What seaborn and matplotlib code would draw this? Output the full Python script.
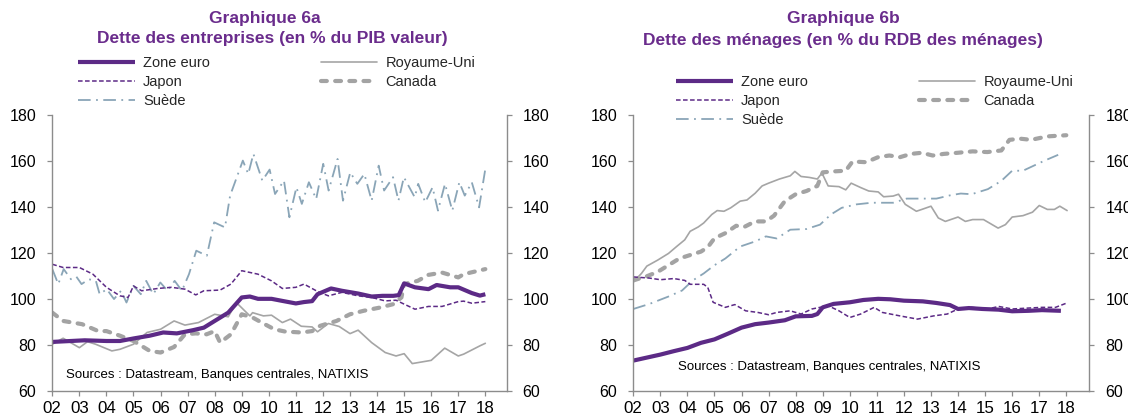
import matplotlib
matplotlib.use("Agg")
import matplotlib.pyplot as plt
import seaborn as sns

# ---------------- data: panel a (corporate debt, % GDP) ----------------
a_ze_x = [2002.0, 2003.2, 2004.0, 2004.5, 2005.0, 2005.6, 2006.1, 2006.6, 2007.2, 2007.6, 2008.0, 2008.5, 2009.0, 2009.3,
          2009.6, 2010.1, 2010.5, 2011.0, 2011.3, 2011.6, 2011.8, 2012.3, 2012.7, 2013.3, 2013.8, 2014.2, 2014.6, 2014.8,
          2015.0, 2015.4, 2015.9, 2016.2, 2016.7, 2017.0, 2017.5, 2017.8, 2018.0]
a_ze_y = [81.3, 82, 81.7, 81.7, 82.8, 84, 85.4, 85, 86.4, 87.5, 90.4, 94, 100.6, 101, 100, 100, 99.1, 98, 98.6, 99, 102,
          104.5, 103.5, 102.3, 101, 101.3, 101.3, 101.6, 106.7, 105, 104.2, 106, 105, 105, 102.5, 101.4, 102]

a_jp_x = [2002.0, 2002.4, 2003.0, 2003.5, 2004.0, 2004.5, 2004.8, 2005.0, 2005.3, 2005.9, 2006.4, 2006.9, 2007.3, 2007.6,
          2008.2, 2008.6, 2009.0, 2009.6, 2010.1, 2010.5, 2011.0, 2011.3, 2011.8, 2012.2, 2012.7, 2013.3, 2013.8, 2014.3,
          2014.7, 2015.0, 2015.4, 2015.9, 2016.4, 2017.0, 2017.2, 2017.5, 2018.0]
a_jp_y = [115, 113.6, 113.6, 110.7, 105, 101.3, 100.6, 105.6, 103.5, 104.5, 105, 104.2, 101.7, 103.5, 103.8, 106.4, 112.2,
          110.7, 107.8, 104.5, 105, 106.4, 103.2, 101.3, 102.8, 101.3, 100.6, 99.1, 99.4, 97.7, 95.5, 96.7, 96.7, 98.8, 99,
          98.1, 98.8]

a_uk_x = [2002.0, 2002.4, 2003.0, 2003.3, 2003.6, 2004.2, 2004.5, 2005.0, 2005.5, 2006.0, 2006.5, 2006.9, 2007.4, 2008.0,
          2008.5, 2008.8, 2009.3, 2009.4, 2009.8, 2010.1, 2010.5, 2010.8, 2011.2, 2011.6, 2011.8, 2012.2, 2012.6, 2013.0,
          2013.3, 2013.8, 2014.3, 2014.7, 2015.0, 2015.3, 2016.0, 2016.5, 2017.0, 2017.2, 2017.8, 2018.0]
a_uk_y = [80.3, 82.9, 78.8, 81.4, 80.3, 77.4, 78.1, 80.3, 85.4, 86.8, 90.4, 88.6, 89.7, 93.3, 92.2, 98.4, 92.6, 94, 92.6,
          92.9, 89.7, 91.2, 88.1, 87.8, 85.7, 89.3, 88, 84.9, 86.4, 81, 76.7, 75.2, 76.2, 71.9, 73.3, 78.6, 75.2, 76, 79.6,
          80.7]

a_ca_x = [2002.0, 2002.4, 2003.1, 2003.7, 2004.0, 2004.5, 2005.0, 2005.6, 2006.0, 2006.5, 2006.9, 2007.3, 2007.7, 2008.0,
          2008.2, 2008.6, 2009.0, 2009.4, 2009.8, 2010.2, 2010.6, 2011.2, 2011.6, 2011.9, 2012.5, 2013.0, 2013.5, 2014.1,
          2014.6, 2014.9, 2015.0, 2015.5, 2015.9, 2016.4, 2017.0, 2017.2, 2018.0]
a_ca_y = [94, 90.4, 89, 86, 86, 84, 81.7, 77.4, 76.7, 79.1, 84.6, 85, 84.6, 86, 81, 84.6, 93.3, 91.9, 89.3, 86.8, 85.8,
          85.4, 86, 88.3, 90.4, 93.3, 94.8, 96.2, 97.7, 100.6, 106.4, 107.8, 110.4, 111.4, 109.3, 110.7, 112.9]

a_se_x = [2002.0, 2002.22, 2002.42, 2002.69, 2002.89, 2003.08, 2003.35, 2003.61, 2003.75, 2004.01, 2004.28, 2004.54,
          2004.74, 2005.0, 2005.27, 2005.47, 2005.73, 2005.99, 2006.26, 2006.52, 2006.79, 2007.05, 2007.32, 2007.71,
          2007.98, 2008.38, 2008.57, 2009.04, 2009.24, 2009.43, 2009.76, 2010.03, 2010.23, 2010.56, 2010.76, 2011.02,
          2011.22, 2011.48, 2011.75, 2012.01, 2012.21, 2012.54, 2012.74, 2013.01, 2013.27, 2013.53, 2013.80, 2014.06,
          2014.26, 2014.59, 2014.79, 2014.99, 2015.39, 2015.52, 2015.78, 2016.05, 2016.25, 2016.51, 2016.78, 2017.04,
          2017.24, 2017.50, 2017.77, 2018.0]
a_se_y = [112.9, 106.4, 112.9, 108.5, 109.6, 106.4, 108.5, 107.8, 102, 104.2, 99.9, 103.5, 98.4, 105.6, 102, 107.8, 102,
          107.1, 103.5, 107.8, 103.5, 110.7, 120.9, 118.7, 133.2, 131, 144.8, 160, 154.2, 162.9, 151.3, 156.1, 145.5,
          151.3, 135.4, 148.4, 141.2, 150.6, 143.3, 158.6, 147, 160.7, 142.6, 154.9, 149.9, 154.2, 142.6, 157.8, 147,
          152.8, 142.6, 152.8, 144.1, 149.9, 141.9, 148.4, 138.3, 149.9, 138.3, 150.6, 144.8, 150.6, 139.7, 156.4]

# ---------------- data: panel b (household debt, % disposable income) ----------------
b_ze_x = [2002.0, 2003.0, 2003.5, 2004.0, 2004.5, 2005.0, 2005.5, 2006.0, 2006.5, 2007.0, 2007.6, 2008.0, 2008.6, 2008.8,
          2009.0, 2009.4, 2010.0, 2010.5, 2011.05, 2011.5, 2012.0, 2012.7, 2013.2, 2013.7, 2014.0, 2014.4, 2014.9,
          2015.5, 2016.0, 2016.6, 2017.1, 2017.8]
b_ze_y = [73.2, 75.8, 77.3, 78.7, 80.9, 82.4, 84.9, 87.5, 89, 89.7, 90.7, 92.4, 92.6, 93.4, 96.3, 97.8, 98.5, 99.5, 100,
          99.8, 99.2, 98.9, 98.2, 97.3, 95.6, 96, 95.6, 95.3, 94.6, 94.8, 95.1, 94.8]

b_jp_x = [2002.0, 2002.6, 2003.0, 2003.5, 2003.9, 2004.1, 2004.6, 2004.75, 2004.95, 2005.4, 2005.75, 2006.15, 2006.6,
          2007.0, 2007.3, 2007.8, 2008.2, 2008.6, 2009.2, 2009.6, 2010.0, 2010.4, 2010.9, 2011.2, 2011.85, 2012.5,
          2013.1, 2013.6, 2014.0, 2014.5, 2015.1, 2015.5, 2016.0, 2016.6, 2017.1, 2017.6, 2018.0]
b_jp_y = [109.5, 109, 108.3, 108.8, 108, 106.3, 106.3, 105, 98.5, 96.3, 97.5, 94.8, 94.1, 93.1, 94.1, 94.8, 93.4, 95.6,
          97, 94.8, 91.9, 93.4, 96.3, 94.1, 92.6, 91.2, 92.6, 93.4, 95.6, 96.3, 95.6, 96.7, 95.6, 96, 96.3, 96.3, 98.1]

b_uk_x = [2002.0, 2002.3, 2002.5, 2002.9, 2003.3, 2003.6, 2003.9, 2004.1, 2004.4, 2004.6, 2004.9, 2005.1, 2005.35,
          2005.6, 2005.95, 2006.2, 2006.5, 2006.76, 2007.0, 2007.4, 2007.8, 2007.97, 2008.2, 2008.5, 2008.8, 2008.97,
          2009.2, 2009.6, 2009.85, 2010.05, 2010.4, 2010.7, 2011.05, 2011.25, 2011.6, 2011.8, 2012.05, 2012.46, 2012.66,
          2013.0, 2013.27, 2013.53, 2014.0, 2014.27, 2014.54, 2014.94, 2015.48, 2015.75, 2016.0, 2016.4, 2016.75,
          2017.0, 2017.3, 2017.56, 2017.76, 2018.03]
b_uk_y = [107.3, 111, 114.2, 116.8, 119.7, 122.7, 125.6, 129.3, 131.2, 132.9, 136.6, 138.3, 138, 139.5, 142.4, 142.9,
          145.8, 149, 150.2, 152, 153.4, 155.3, 153.1, 152.7, 152, 154.6, 149, 148.7, 147.3, 150.2, 148.3, 146.8, 146.4,
          144.3, 144.6, 145.4, 141, 138, 138.8, 140.2, 135.1, 133.6, 135.5, 133.6, 134.4, 134.4, 130.7, 132.2, 135.5,
          136.1, 137.6, 140.5, 138.8, 138.8, 140.2, 138.3]

b_ca_x = [2002.0, 2002.5, 2002.9, 2003.3, 2003.7, 2004.1, 2004.5, 2004.75, 2005.0, 2005.4, 2005.8, 2006.1, 2006.5,
          2006.9, 2007.2, 2007.6, 2008.0, 2008.4, 2008.8, 2009.0, 2009.4, 2009.85, 2010.1, 2010.6, 2011.05, 2011.46,
          2011.86, 2012.26, 2012.66, 2013.06, 2013.47, 2014.0, 2014.54, 2015.08, 2015.6, 2015.9, 2016.3, 2016.7,
          2017.3, 2018.0]
b_ca_y = [108, 109.8, 111.7, 114.6, 117.5, 119, 120.5, 122.4, 126.3, 128.5, 131.7, 131.2, 133.6, 133.6, 136.1, 142.4,
          145.4, 146.8, 149, 154.9, 155.3, 155.6, 159.6, 159.3, 161.5, 162.2, 161.5, 162.9, 163.4, 162.2, 162.9, 163.4,
          164, 163.7, 164.4, 169, 169.5, 169, 170.5, 171]

b_se_x = [2002.0, 2002.6, 2003.3, 2003.8, 2004.2, 2004.6, 2005.0, 2005.4, 2005.95, 2006.5, 2006.9, 2007.3, 2007.8,
          2008.4, 2008.9, 2009.3, 2009.7, 2010.25, 2010.8, 2011.6, 2012.1, 2012.66, 2013.2, 2013.7, 2014.1, 2014.5,
          2015.1, 2015.6, 2016.0, 2016.4, 2016.8, 2017.2, 2017.7]
b_se_y = [95.6, 97.8, 101, 103.6, 108, 111, 114.6, 117.5, 122.7, 124.9, 127.1, 126.2, 130, 130.3, 132.2, 136.6, 139.5,
          141, 141.7, 141.7, 143.5, 143.5, 143.5, 144.9, 145.7, 145.4, 147.6, 151.2, 155.6, 155.6, 157.8, 160, 162.5]

series_names = ["Zone euro", "Japon", "Suède", "Royaume-Uni", "Canada"]
year_ticks = list(range(2002, 2019))
year_labels = ["%02d" % (y % 100) for y in year_ticks]
y_ticks = [60, 80, 100, 120, 140, 160, 180]

titles_a = ["Graphique 6a", "Dette des entreprises (en % du PIB valeur)"]
titles_b = ["Graphique 6b", "Dette des ménages (en % du RDB des ménages)"]
source_text = "Sources : Datastream, Banques centrales, NATIXIS"

# ---------------- styling ----------------
sns.set_theme(style="white")
plt.rcParams["font.family"] = ["Liberation Sans", "DejaVu Sans"]

PURPLE = "#5C2A86"
TITLE_PURPLE = "#6A2C8C"
GREY = "#A5A5A5"
CAN_GREY = "#A3A3A3"
SWE = "#8AA5B7"
SPINE = "#8C8C8C"

styles = {
    "Zone euro": dict(color=PURPLE, lw=3.0, ls="-", solid_capstyle="butt"),
    "Japon": dict(color=PURPLE, lw=1.1, ls=(0, (3, 1.6))),
    "Suède": dict(color=SWE, lw=1.3, ls=(0, (7, 3, 1, 3))),
    "Royaume-Uni": dict(color=GREY, lw=1.2, ls="-"),
    "Canada": dict(color=CAN_GREY, lw=3.0, ls=(0, (1.4, 2.0)), dash_capstyle="round"),
}

fig = plt.figure(figsize=(11.28, 4.19), dpi=100)
ax_a = fig.add_axes([0.04637, 0.06683, 0.40284, 0.6599])
ax_b = fig.add_axes([0.56144, 0.06683, 0.40426, 0.6599])


def draw(ax, data, xmax):
    order = ["Suède", "Canada", "Royaume-Uni", "Japon", "Zone euro"]
    handles = {}
    for name in order:
        xs, ys = data[name]
        sns.lineplot(x=xs, y=ys, ax=ax, estimator=None, sort=False, **styles[name])
        handles[name] = ax.get_lines()[-1]
    ax.set_xlim(2002, xmax)
    ax.set_ylim(60, 180)
    ax.set_xticks(year_ticks)
    ax.set_xticklabels(year_labels)
    ax.set_yticks(y_ticks)
    ax.tick_params(axis="y", which="both", left=True, right=True, labelleft=True, labelright=True,
                   direction="out", length=3.5, width=0.9, color=SPINE, labelsize=11.5, pad=8, labelcolor="black")
    ax.tick_params(axis="x", bottom=True, direction="out", length=3.5, width=0.9, color=SPINE,
                   labelsize=12.2, pad=4, labelcolor="black")
    for s in ["left", "right", "bottom"]:
        ax.spines[s].set_visible(True)
        ax.spines[s].set_color(SPINE)
        ax.spines[s].set_linewidth(1.0)
    ax.spines["top"].set_visible(False)
    ax.set_xlabel("")
    ax.set_ylabel("")
    leg = ax.get_legend()
    if leg is not None:
        leg.remove()
    return handles


data_a = {"Zone euro": (a_ze_x, a_ze_y), "Japon": (a_jp_x, a_jp_y), "Suède": (a_se_x, a_se_y),
          "Royaume-Uni": (a_uk_x, a_uk_y), "Canada": (a_ca_x, a_ca_y)}
data_b = {"Zone euro": (b_ze_x, b_ze_y), "Japon": (b_jp_x, b_jp_y), "Suède": (b_se_x, b_se_y),
          "Royaume-Uni": (b_uk_x, b_uk_y), "Canada": (b_ca_x, b_ca_y)}

h_a = draw(ax_a, data_a, 2018.79)
h_b = draw(ax_b, data_b, 2018.85)

W, H = 1128.0, 419.0


def add_legend(handles, x0, y0):
    hs = [handles[n] for n in series_names]
    leg = fig.legend(hs, series_names, loc="upper left", bbox_to_anchor=(x0 / W, 1 - y0 / H),
                     bbox_transform=fig.transFigure, ncol=2, frameon=False, fontsize=10.5,
                     handlelength=3.9, handletextpad=0.55, columnspacing=7.6, labelspacing=0.33,
                     borderpad=0, borderaxespad=0)
    return leg


add_legend(h_a, 78, 56)
add_legend(h_b, 676, 75)

# titles
fig.text(265 / W, 1 - 18 / H, titles_a[0], ha="center", va="center", fontsize=12.5, fontweight="bold",
         color=TITLE_PURPLE)
fig.text(272 / W, 1 - 39 / H, titles_a[1], ha="center", va="center", fontsize=12.5, fontweight="bold",
         color=TITLE_PURPLE)
fig.text(843 / W, 1 - 18 / H, titles_b[0], ha="center", va="center", fontsize=12.5, fontweight="bold",
         color=TITLE_PURPLE)
fig.text(843 / W, 1 - 40 / H, titles_b[1], ha="center", va="center", fontsize=12.5, fontweight="bold",
         color=TITLE_PURPLE)

# sources
ax_a.text(2002.5, 67, source_text, ha="left", va="center", fontsize=9.5, color="black")
ax_b.text(2003.65, 70.5, source_text, ha="left", va="center", fontsize=9.5, color="black")

fig.savefig("out.png", dpi=100)
